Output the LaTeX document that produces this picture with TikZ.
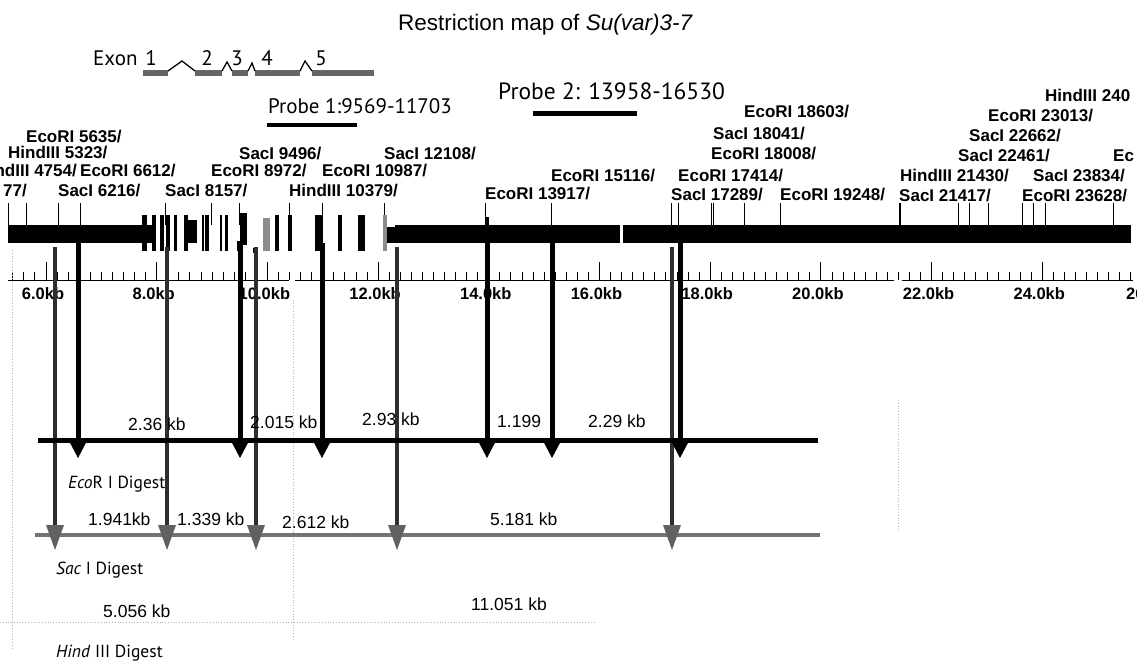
\documentclass[tikz,border=0pt]{standalone}
\usepackage{fontspec}
\setmainfont{Liberation Sans}
\newfontfamily\hum{PT Sans}
\begin{document}
\begin{tikzpicture}[x=1pt,y=-1pt,
  site/.style={anchor=base west, inner sep=0pt, font=\bfseries\fontsize{17}{18}\selectfont},
  tlab/.style={anchor=base, inner sep=0pt, font=\bfseries\fontsize{16.5}{18}\selectfont},
  frag/.style={anchor=base west, inner sep=0pt, font=\fontsize{17.5}{20}\selectfont},
  hlab/.style={anchor=base west, inner sep=0pt, font=\hum\fontsize{17.5}{20}\selectfont},
  exonlab/.style={anchor=base, inner sep=0pt, font=\hum\fontsize{21}{24}\selectfont},
  leader/.style={line width=0.9pt},
  tick/.style={line width=0.9pt},
  ecoline/.style={line width=5pt},
  sacline/.style={line width=3.5pt, black!82},
  sacdigest/.style={line width=4.5pt, black!55},
  faint/.style={black!30, dotted, line width=0.8pt}
]
\useasboundingbox (0,0) rectangle (1137,665);
\clip (0,0) rectangle (1137,665);

% title
\node[anchor=base west, inner sep=0pt, font=\fontsize{22.5}{24}\selectfont] (title) at (398,30)
  {Restriction map of \textit{Su(var)3-7}};

% exon structure
\node[anchor=base west, inner sep=0pt, font=\hum\fontsize{21}{24}\selectfont] (exon) at (93,65) {Exon};
\node[exonlab] (n1) at (151,65) {1};
\node[exonlab] (n2) at (207,65) {2};
\node[exonlab] (n3) at (237,65) {3};
\node[exonlab] (n4) at (267,65) {4};
\node[exonlab] (n5) at (321,65) {5};
\fill[black!60] (143,70) rectangle (168,76);
\fill[black!60] (195,70) rectangle (222,76);
\fill[black!60] (232,70) rectangle (248,76);
\fill[black!60] (255,70) rectangle (300,76);
\fill[black!60] (312,70) rectangle (374,76);
\draw[line width=1.3pt, line join=miter] (168,71) -- (182,61) -- (195,71);
\draw[line width=1.3pt] (222,71) -- (227,62) -- (232,71);
\draw[line width=1.3pt] (248,71) -- (252,63) -- (255,71);
\draw[line width=1.3pt] (300,71) -- (305,61) -- (312,71);

% probes
\node[anchor=base west, inner sep=0pt, font=\hum\fontsize{21}{24}\selectfont] (p1) at (268,113) {Probe 1:9569-11703};
\node[anchor=base west, inner sep=0pt, font=\hum\fontsize{23.5}{26}\selectfont] (p2) at (498,99) {Probe 2: 13958-16530};
\fill (267,123) rectangle (357,127);
\fill (533,111) rectangle (637,116);

% restriction site labels and leader lines
\foreach \x/\y/\t in {26/142/EcoRI 5635, 8/158/HindIII 5323, 80/176/EcoRI 6612,
  58/196/SacI 6216, 165/196/SacI 8157, 211/176/EcoRI 8972, 239/159/SacI 9496,
  289/196/HindIII 10379, 322/176/EcoRI 10987, 384/159/SacI 12108,
  485/199/EcoRI 13917, 551/181/EcoRI 15116,
  671/200/SacI 17289, 678/181/EcoRI 17414, 711/159/EcoRI 18008, 713/139/SacI 18041,
  744/117/EcoRI 18603, 780/200/EcoRI 19248,
  899/201/SacI 21417, 900/181/HindIII 21430, 958/161/SacI 22461, 969/141/SacI 22662,
  988/121/EcoRI 23013, 1022/201/EcoRI 23628, 1033/181/SacI 23834}{
  \node[site] at (\x,\y) {\t/};
  \draw[leader] (\x,203) -- (\x,225);
}
\node[site] (h240) at (1045,101) {HindIII 240};
\draw[leader] (1045,203) -- (1045,225);
\node[site] (ec) at (1113,161) {Ec};
\draw[leader] (1113,203) -- (1113,225);
\node[site, anchor=base east] (h4754) at (77,176) {HindIII 4754/};
\node[site, anchor=base east] (s77) at (27,196) {77/};

% map bar
\fill (8,225) rectangle (143,243);
\foreach \a/\b in {142/147, 152/156, 160/164, 166/170, 174/177, 184/188, 202/204, 205/209,
  220/222, 225/228, 275/279, 288/292, 315/323, 338/342, 358/365}{
  \fill (\a,215) rectangle (\b,251);
}
\fill (147,225) rectangle (152,243);
\fill (188,220) rectangle (197,243);
\fill (240,213) rectangle (247,245);
\fill (237,241) rectangle (243,251);
\fill (253,248) rectangle (257,253);
\fill (387,227) rectangle (395,243);
\fill[black!45] (263,218) rectangle (270,251);
\fill[black!45] (383,215) rectangle (387,251);
\fill (395,225) rectangle (620,243);
\fill (623,225) rectangle (1131,243);
\fill (485,217) rectangle (489,225);

% ruler
\draw[tick] (8,280) -- (289,280);
\draw[tick] (295,280) -- (894,280);
\draw[tick] (902,280) -- (1133,280);
\foreach \i in {-3,...,98}{
  \pgfmathsetmacro\tx{46+\i*11.07}
  \pgfmathtruncatemacro\m{mod(\i+30,10)}
  \ifnum\m=0 \draw[tick] (\tx,262) -- (\tx,280); \else \draw[tick] (\tx,272) -- (\tx,280); \fi
}
\foreach \k in {6,8,...,24}{
  \pgfmathsetmacro\tx{46+(\k-6)*55.35-3}
  \node[tlab] at (\tx,299) {\k.0kb};
}
\node[tlab, anchor=base west] (t26) at (1126,299) {26.0kb};

% faint scan lines
\draw[faint] (12,250) -- (12,650);
\draw[faint] (293,300) -- (293,640);
\draw[faint] (898,400) -- (898,530);
\draw[faint] (0,622) -- (595,622);

% SacI digest
\draw[sacdigest] (35,535) -- (820,535);
\foreach \x in {55,167,256,397,672}{
  \draw[sacline] (\x,247) -- (\x,532);
  \fill[black!62] (\x-9,525) -- (\x+9,525) -- (\x,550) -- cycle;
}

% EcoRI digest
\draw[ecoline] (38,440) -- (818,440);
\foreach \x in {78,240,322,487,552,680}{
  \draw[ecoline] (\x,243) -- (\x,440);
  \fill (\x-10,439) -- (\x+10,439) -- (\x,458) -- cycle;
}

% fragment labels
\node[frag] at (128,430) {2.36 kb};
\node[frag] at (250,428) {2.015 kb};
\node[frag] at (362,425) {2.93 kb};
\node[frag] at (497,427) {1.199};
\node[frag] at (588,427) {2.29 kb};
\node[frag] at (88,525) {1.941kb};
\node[frag] at (177,525) {1.339 kb};
\node[frag] at (282,528) {2.612 kb};
\node[frag] at (490,525) {5.181 kb};
\node[frag] at (103,617) {5.056 kb};
\node[frag] at (471,610) {11.051 kb};

% digest labels
\node[hlab] (ecod) at (68,488) {\textit{Eco}R I Digest};
\node[hlab] (sacd) at (56,574) {\textit{Sac} I Digest};
\node[hlab] (hindd) at (56,657) {\textit{Hind} III Digest};
\end{tikzpicture}
\end{document}
